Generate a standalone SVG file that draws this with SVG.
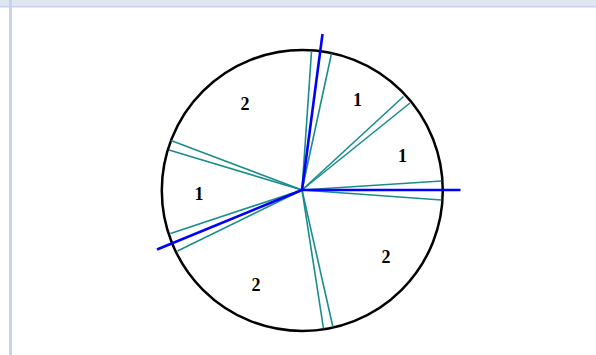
<svg xmlns="http://www.w3.org/2000/svg" width="596" height="355" viewBox="0 0 596 355">
<style>
.frame{fill:#dfe5f1}
.frameline{fill:#c9d3e7}
.circ{fill:none;stroke:#000;stroke-width:2.5}
.teal{stroke:#1a8c8c;stroke-width:1.6;fill:none}
.blue{stroke:#0000ff;stroke-width:2.6;fill:none}
.lbl{font-family:"Liberation Serif",serif;font-weight:bold;font-size:18px;text-anchor:middle;fill:#000}
</style>
<rect x="0" y="0" width="596" height="355" fill="#ffffff"/>
<rect class="frame" x="0" y="0" width="596" height="6"/>
<rect class="frameline" x="0" y="6" width="596" height="1.5"/>
<rect class="frameline" x="9" y="0" width="3" height="355"/>
<g id="circle"><circle class="circ" cx="302.3" cy="190.5" r="140.5"/></g>
<g id="connectors">
<line class="teal" x1="302" y1="190" x2="311.5" y2="51.5"/>
<line class="teal" x1="302" y1="190" x2="331.5" y2="53.5"/>
<line class="teal" x1="302" y1="190" x2="403.5" y2="96.5"/>
<line class="teal" x1="302" y1="190" x2="410" y2="103"/>
<line class="teal" x1="302" y1="190" x2="441.5" y2="181"/>
<line class="teal" x1="302" y1="190" x2="441.5" y2="200"/>
<line class="teal" x1="302" y1="190" x2="323.5" y2="328.5"/>
<line class="teal" x1="302" y1="190" x2="332.8" y2="326.5"/>
<line class="teal" x1="302" y1="190" x2="170.5" y2="233.5"/>
<line class="teal" x1="302" y1="190" x2="177.5" y2="251"/>
<line class="teal" x1="302" y1="190" x2="171" y2="140.5"/>
<line class="teal" x1="302" y1="190" x2="169" y2="150"/>
<line class="blue" x1="302" y1="190" x2="322.5" y2="34"/>
<line class="blue" x1="302" y1="190" x2="460.5" y2="190"/>
<line class="blue" x1="302" y1="190" x2="157" y2="249.5"/>
</g>
<g id="labels">
<text class="lbl" x="245" y="110">2</text>
<text class="lbl" x="357.5" y="105.5">1</text>
<text class="lbl" x="402.5" y="161.5">1</text>
<text class="lbl" x="199" y="200">1</text>
<text class="lbl" x="386" y="263">2</text>
<text class="lbl" x="256" y="291">2</text>
</g>
</svg>
